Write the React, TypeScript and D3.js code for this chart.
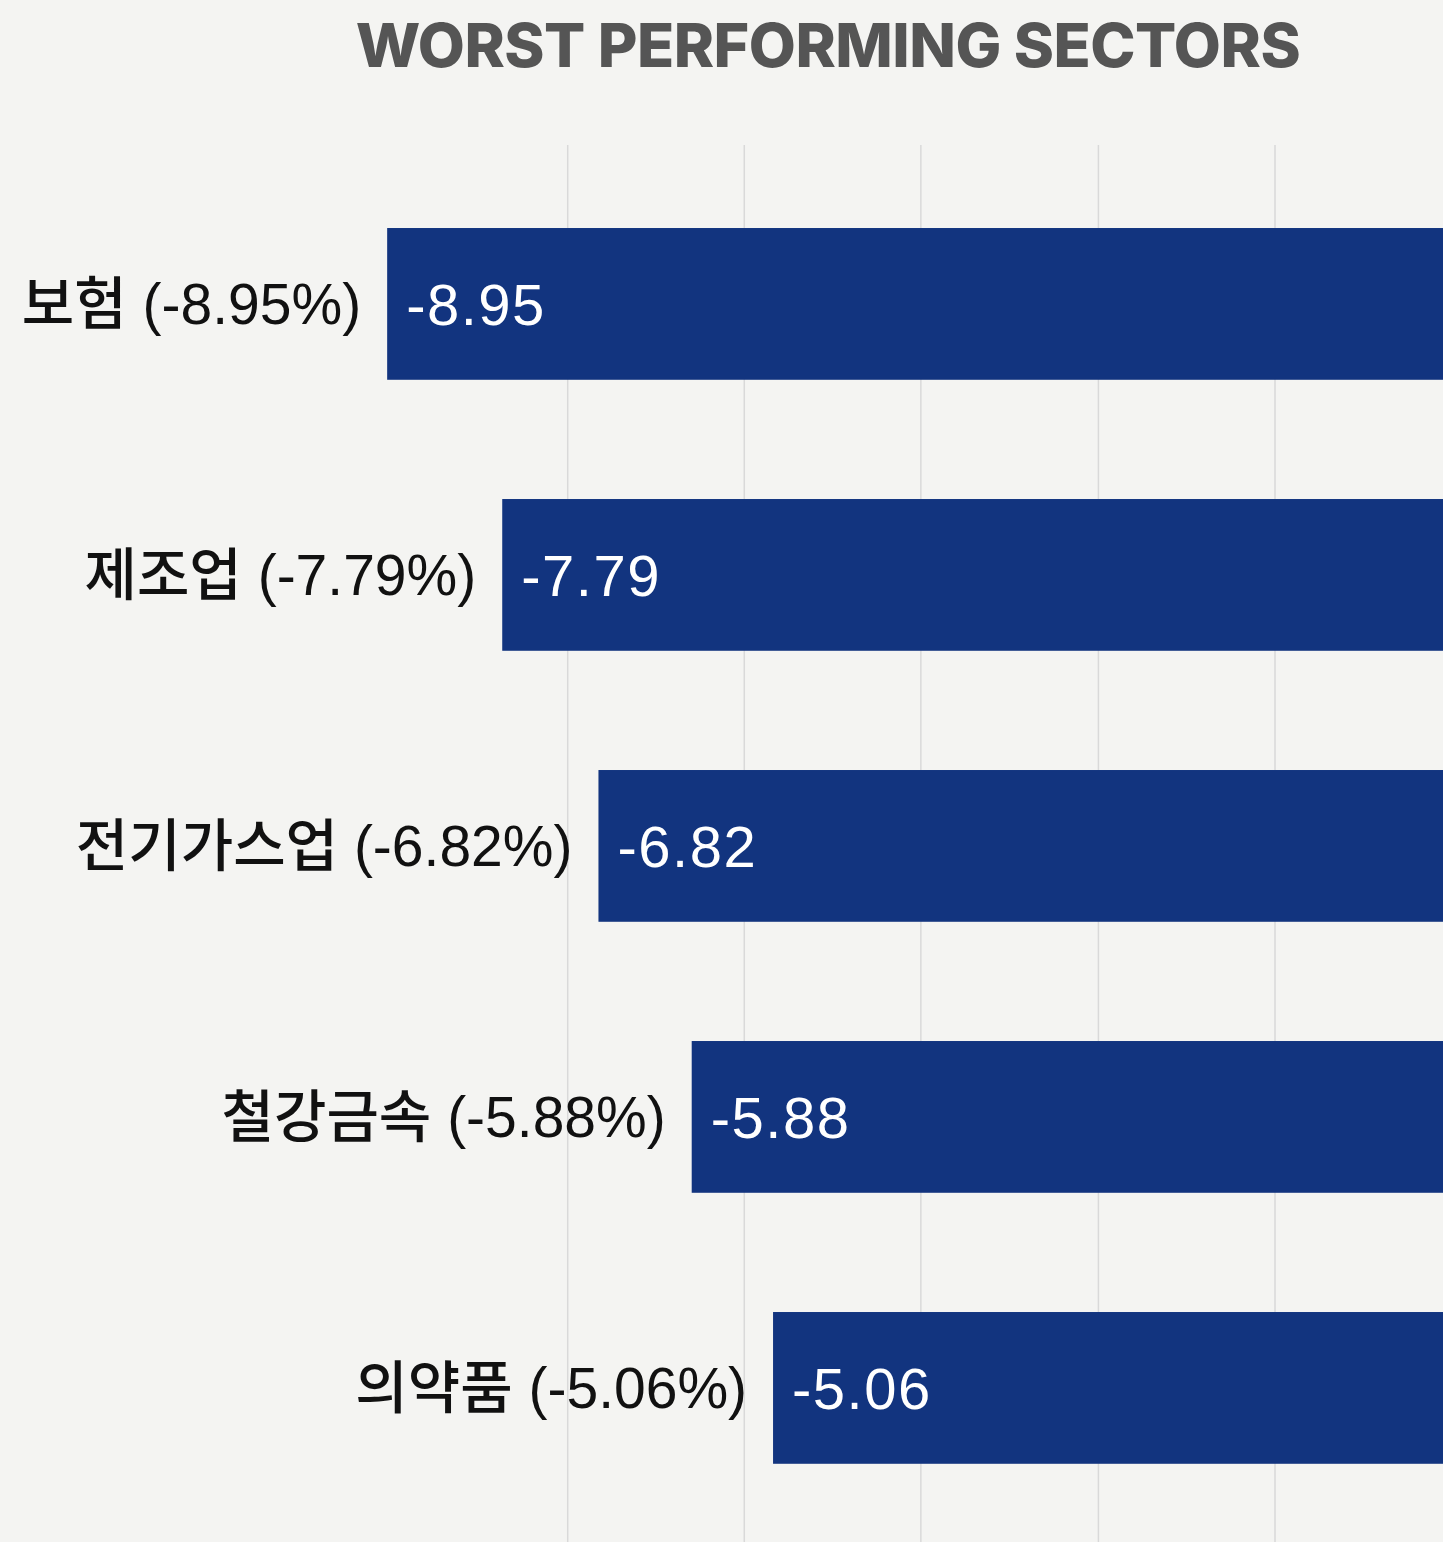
import React from "react";
import * as d3 from "d3";

const sectors = ["보험", "제조업", "전기가스업", "철강금속", "의약품"];
const returns = [-8.95, -7.79, -6.82, -5.88, -5.06];
const gridTicks = [-7.13, -5.35, -3.57, -1.78, 0];
const title = "WORST PERFORMING SECTORS";

const W = 1443;
const H = 1542;

export default function App() {
  const x = d3.scaleLinear().domain([-10, 0]).range([283, 1275]);
  const y = d3
    .scaleBand<string>()
    .domain(sectors)
    .range([168.4, 1523.4])
    .paddingInner(0.44)
    .paddingOuter(0.22);

  const data = sectors.map((s, i) => ({ s, v: returns[i] }));
  const fmt = (v: number) => v.toFixed(2);

  return (
    <svg
      width={W}
      height={H}
      style={{ position: "absolute", left: 0, top: 0, display: "block" }}
    >
      <rect x={0} y={0} width={W} height={H} fill="#f4f4f2" />
      <text
        x={828}
        y={67}
        textAnchor="middle"
        fontFamily="Inter, Roboto, 'Noto Sans', sans-serif"
        fontWeight={800}
        fontSize={61}
        fill="#555555"
        letterSpacing={-0.5}
      >
        {title}
      </text>
      {gridTicks.map((t) => (
        <line
          key={t}
          x1={x(t)}
          x2={x(t)}
          y1={145}
          y2={H}
          stroke="#d9d9d9"
          strokeWidth={1.5}
        />
      ))}
      {data.map((d) => {
        const by = y(d.s)!;
        const cy = by + y.bandwidth() / 2;
        return (
          <g key={d.s}>
            <rect
              x={x(d.v)}
              y={by}
              width={W - x(d.v)}
              height={y.bandwidth()}
              fill="#12347f"
            />
            <text
              x={x(d.v) - 26}
              y={cy}
              dy="0.36em"
              textAnchor="end"
              fontFamily="'Liberation Sans', Arial, 'Noto Sans CJK KR', sans-serif"
              fontSize={57}
              fill="#111111"
            >
              <tspan fontFamily="'Noto Sans CJK KR', sans-serif" fontWeight={500}>
                {d.s}
              </tspan>
              {` (${fmt(d.v)}%)`}
            </text>
            <text
              x={x(d.v) + 19}
              y={cy}
              dy="0.36em"
              textAnchor="start"
              fontFamily="'Liberation Sans', Arial, sans-serif"
              fontSize={58}
              letterSpacing={1.5}
              fill="#ffffff"
            >
              {fmt(d.v)}
            </text>
          </g>
        );
      })}
    </svg>
  );
}
